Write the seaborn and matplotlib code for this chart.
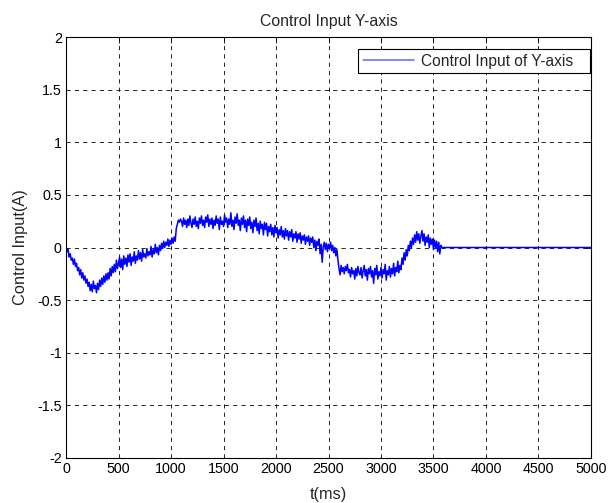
import numpy as np
import pandas as pd
import matplotlib
matplotlib.use('Agg')
import matplotlib.pyplot as plt
import seaborn as sns

# control input samples (A), one every 10 ms until the controller stops
t_step = 10
u_0000 = [0.0, -0.04, -0.02, -0.09, -0.06, -0.12, -0.1, -0.16, -0.11, -0.18,
          -0.15, -0.22, -0.19, -0.26, -0.21, -0.29, -0.24, -0.31, -0.27, -0.34,
          -0.3, -0.37, -0.33, -0.41, -0.35, -0.42, -0.32, -0.39, -0.36, -0.43,
          -0.34, -0.4, -0.31, -0.37, -0.29, -0.35, -0.27, -0.33, -0.25, -0.31,
          -0.24, -0.3, -0.2, -0.27, -0.18, -0.24, -0.16, -0.23, -0.12, -0.2]
u_0500 = [-0.15, -0.09, -0.19, -0.11, -0.21, -0.08, -0.16, -0.1, -0.18, -0.07,
          -0.14, -0.06, -0.17, -0.09, -0.13, -0.04, -0.15, -0.08, -0.12, -0.03,
          -0.11, -0.05, -0.13, -0.02, -0.09, -0.06, -0.1, -0.01, -0.08, -0.04,
          -0.07, 0.01, -0.09, -0.02, -0.06, 0.03, -0.05, 0.0, -0.07, 0.02,
          -0.03, 0.04, -0.01, 0.06, 0.0, 0.05, 0.02, 0.08, 0.01, 0.07]
u_1000 = [0.03, 0.09, 0.04, 0.1, 0.06, 0.18, 0.22, 0.26, 0.24, 0.27,
          0.25, 0.2, 0.28, 0.22, 0.26, 0.19, 0.27, 0.21, 0.3, 0.23,
          0.19, 0.27, 0.22, 0.29, 0.2, 0.25, 0.18, 0.28, 0.23, 0.3,
          0.21, 0.26, 0.19, 0.29, 0.24, 0.31, 0.2, 0.27, 0.22, 0.28,
          0.18, 0.26, 0.21, 0.3, 0.23, 0.27, 0.17, 0.29, 0.22, 0.25]
u_1500 = [0.2, 0.31, 0.24, 0.28, 0.19, 0.27, 0.22, 0.33, 0.2, 0.26,
          0.17, 0.29, 0.23, 0.32, 0.21, 0.26, 0.16, 0.28, 0.22, 0.3,
          0.19, 0.26, 0.15, 0.27, 0.21, 0.29, 0.18, 0.24, 0.14, 0.26,
          0.2, 0.28, 0.16, 0.23, 0.13, 0.25, 0.18, 0.22, 0.12, 0.24,
          0.17, 0.23, 0.11, 0.2, 0.15, 0.22, 0.12, 0.19, 0.1, 0.21]
u_2000 = [0.14, 0.19, 0.09, 0.17, 0.12, 0.2, 0.1, 0.16, 0.08, 0.18,
          0.11, 0.16, 0.07, 0.15, 0.1, 0.17, 0.06, 0.13, 0.09, 0.15,
          0.05, 0.13, 0.08, 0.14, 0.04, 0.11, 0.07, 0.12, 0.03, 0.1,
          0.06, 0.11, 0.02, 0.09, 0.05, 0.1, 0.0, 0.07, -0.03, 0.06,
          0.02, 0.08, -0.06, 0.03, -0.14, 0.01, 0.05, -0.02, 0.04, -0.04]
u_2500 = [0.03, -0.01, 0.05, -0.03, 0.02, -0.05, 0.0, -0.08, -0.02, -0.12,
          -0.2, -0.26, -0.17, -0.23, -0.19, -0.25, -0.18, -0.22, -0.16, -0.24,
          -0.21, -0.28, -0.19, -0.25, -0.22, -0.3, -0.2, -0.27, -0.18, -0.24,
          -0.26, -0.19, -0.29, -0.22, -0.17, -0.27, -0.21, -0.31, -0.2, -0.25,
          -0.18, -0.28, -0.22, -0.34, -0.2, -0.26, -0.17, -0.3, -0.23, -0.27]
u_3000 = [-0.19, -0.29, -0.21, -0.25, -0.16, -0.31, -0.22, -0.26, -0.18, -0.28,
          -0.2, -0.25, -0.15, -0.27, -0.19, -0.23, -0.13, -0.24, -0.17, -0.21,
          -0.1, -0.16, -0.05, -0.12, -0.02, -0.08, 0.02, -0.03, 0.06, 0.0,
          0.09, 0.03, 0.12, 0.05, 0.15, 0.07, 0.13, 0.04, 0.11, 0.16,
          0.06, 0.13, 0.02, 0.1, 0.05, 0.12, 0.0, 0.09, 0.03, 0.08,
          -0.02, 0.07, 0.0, 0.06, -0.04, 0.05, -0.06, 0.02]
# after the run the output is held at zero
tail_t = [3580, 5000]
tail_u = [0.0, 0.0]

active = u_0000 + u_0500 + u_1000 + u_1500 + u_2000 + u_2500 + u_3000
t_ms = list(np.arange(len(active)) * t_step) + tail_t
df = pd.DataFrame({'t': t_ms, 'u': active + tail_u})

sns.set_style('white')
plt.rcParams['font.family'] = ['Liberation Sans', 'DejaVu Sans']

fig = plt.figure(figsize=(6.08, 5.03), dpi=100)
ax = fig.add_axes([0.1086, 0.0895, 0.8634, 0.8369])

sns.lineplot(data=df, x='t', y='u', ax=ax, color='#0000ff', linewidth=1.1,
             label='Control Input of Y-axis')

ax.set_xlim(0, 5000)
ax.set_ylim(-2, 2)
ax.set_xticks(np.arange(0, 5001, 500))
ax.set_yticks(np.arange(-2, 2.01, 0.5))
ax.set_yticklabels(['-2', '-1.5', '-1', '-0.5', '0', '0.5', '1', '1.5', '2'])
ax.grid(True, color='black', linestyle=(0, (5, 5)), linewidth=0.6)
ax.tick_params(direction='in', length=4, width=0.6, top=True, right=True,
               labelsize=10.3, colors='black', pad=3)
for s in ax.spines.values():
    s.set_color('black')
    s.set_linewidth(0.8)

ax.set_title('Control Input Y-axis', fontsize=11.4, pad=8)
ax.set_xlabel('t(ms)', fontsize=11.8, labelpad=8)
ax.set_ylabel('Control Input(A)', fontsize=11.8, labelpad=7)

# legend box stretched to the width it has in the reference (px 358..590)
leg = ax.legend(loc='upper left', mode='expand',
                bbox_to_anchor=(292 / 525, 1 - 37 / 421, 232 / 525, 25 / 421),
                fontsize=11.2, fancybox=False, framealpha=1, edgecolor='black',
                borderaxespad=0, borderpad=0.3, handlelength=3.3,
                handletextpad=0.45)
leg.get_frame().set_linewidth(0.8)
for line in leg.get_lines():
    line.set_color('#6666ff')

fig.savefig('out.png', dpi=100)
